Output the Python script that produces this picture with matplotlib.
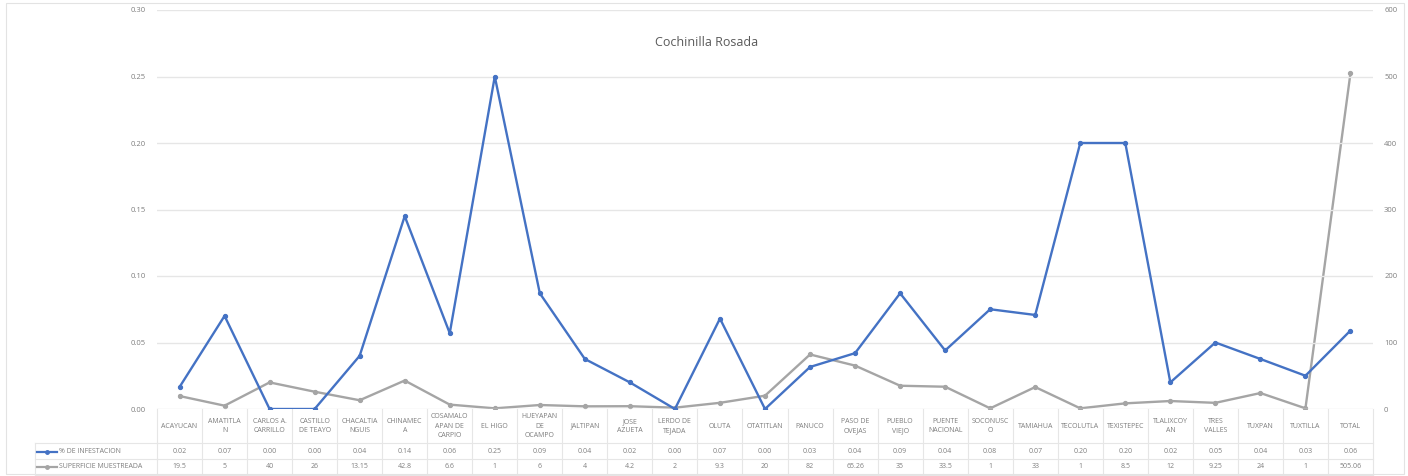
import numpy as np
import matplotlib.pyplot as plt
from matplotlib.patches import Rectangle
from matplotlib.lines import Line2D
import matplotlib.transforms as mtransforms

plt.rcParams['font.family'] = ['Open Sans', 'DejaVu Sans']

municipios = ['ACAYUCAN', 'AMATITLA\nN', 'CARLOS A.\nCARRILLO', 'CASTILLO\nDE TEAYO',
              'CHACALTIA\nNGUIS', 'CHINAMEC\nA', 'COSAMALO\nAPAN DE\nCARPIO', 'EL HIGO',
              'HUEYAPAN\nDE\nOCAMPO', 'JALTIPAN', 'JOSE\nAZUETA', 'LERDO DE\nTEJADA',
              'OLUTA', 'OTATITLAN', 'PANUCO', 'PASO DE\nOVEJAS', 'PUEBLO\nVIEJO',
              'PUENTE\nNACIONAL', 'SOCONUSC\nO', 'TAMIAHUA', 'TECOLUTLA', 'TEXISTEPEC',
              'TLALIXCOY\nAN', 'TRES\nVALLES', 'TUXPAN', 'TUXTILLA', 'TOTAL']

# values
infestacion = [0.0165, 0.070, 0.0, 0.0, 0.040, 0.145, 0.057, 0.25, 0.087, 0.0376,
               0.020, 0.0, 0.068, 0.0, 0.0316, 0.042, 0.087, 0.044, 0.075, 0.0707,
               0.20, 0.20, 0.020, 0.050, 0.0376, 0.025, 0.059]
# values as printed in the data table
infestacion_txt = ['0.02', '0.07', '0.00', '0.00', '0.04', '0.14', '0.06', '0.25', '0.09',
                   '0.04', '0.02', '0.00', '0.07', '0.00', '0.03', '0.04', '0.09', '0.04',
                   '0.08', '0.07', '0.20', '0.20', '0.02', '0.05', '0.04', '0.03', '0.06']

superficie = [19.5, 5, 40, 26, 13.15, 42.8, 6.6, 1, 6, 4, 4.2, 2, 9.3, 20, 82, 65.26,
              35, 33.5, 1, 33, 1, 8.5, 12, 9.25, 24, 1, 505.06]
superficie_txt = ['19.5', '5', '40', '26', '13.15', '42.8', '6.6', '1', '6', '4', '4.2',
                  '2', '9.3', '20', '82', '65.26', '35', '33.5', '1', '33', '1', '8.5',
                  '12', '9.25', '24', '1', '505.06']

blue = '#4472C4'
grey = '#A5A5A5'
txt = '#7f7f7f'
gridc = '#e6e6e6'

fig = plt.figure(figsize=(14.08, 4.76), dpi=100)
fig.patches.append(Rectangle((0.004, 0.004), 0.993, 0.99, transform=fig.transFigure,
                             fill=False, edgecolor='#e3e3e3', lw=0.8))

W, H = 1408, 476
left, right, top, bottom = 157, 1373, 10, 409
ax = fig.add_axes([left / W, 1 - bottom / H, (right - left) / W, (bottom - top) / H])
ax2 = ax.twinx()

x = np.arange(len(municipios))
ax.plot(x, infestacion, color=blue, lw=1.7, marker='o', ms=2.8, zorder=3)
ax2.plot(x, superficie, color=grey, lw=1.7, marker='o', ms=2.8, zorder=3)

ax.set_xlim(-0.5, len(municipios) - 0.5)
ax.set_ylim(0, 0.30)
ax2.set_ylim(0, 600)
ax.set_yticks(np.arange(0, 0.31, 0.05))
ax.set_yticklabels([f'{v:.2f}' for v in np.arange(0, 0.31, 0.05)])
ax2.set_yticks(np.arange(0, 601, 100))
ax.grid(axis='y', color=gridc, lw=1.0)
ax.set_axisbelow(True)
ax.set_xticks([])
for a in (ax, ax2):
    for s in a.spines.values():
        s.set_visible(False)
    a.tick_params(axis='y', length=0, labelsize=5.5, labelcolor=txt, pad=8)
ax.set_zorder(ax2.get_zorder() + 1)
ax.patch.set_visible(False)

fig.text(707 / W, 1 - 42 / H, 'Cochinilla Rosada', ha='center', va='center',
         fontsize=9, color='#595959')

# data table under the plot
trans = mtransforms.blended_transform_factory(ax.transData, fig.transFigure)
def fy(py):
    return 1 - py / H

row_y = [409, 443, 459, 475]
edges = np.arange(len(municipios) + 1) - 0.5
for e in edges:
    ax.plot([e, e], [fy(409), fy(475)], transform=trans, color=gridc, lw=0.8, clip_on=False)
for r in row_y[1:]:
    ax.plot([-0.5, len(municipios) - 0.5], [fy(r), fy(r)], transform=trans,
            color=gridc, lw=0.8, clip_on=False)
for r in row_y[1:]:
    fig.add_artist(Line2D([35 / W, left / W], [fy(r), fy(r)], color=gridc, lw=0.8))
fig.add_artist(Line2D([35 / W, 35 / W], [fy(443), fy(475)], color=gridc, lw=0.8))

for i, name in enumerate(municipios):
    ax.text(i, fy(426), name, transform=trans, ha='center', va='center',
            fontsize=5, color=txt, linespacing=1.5, clip_on=False)
    ax.text(i, fy(451.5), infestacion_txt[i], transform=trans, ha='center',
            va='center', fontsize=5, color=txt, clip_on=False)
    ax.text(i, fy(467), superficie_txt[i], transform=trans, ha='center',
            va='center', fontsize=5, color=txt, clip_on=False)

for py, col, lab in [(451.5, blue, '% DE INFESTACION'), (467, grey, 'SUPERFICIE MUESTREADA')]:
    fig.add_artist(Line2D([37 / W, 57 / W], [fy(py), fy(py)], color=col, lw=1.6))
    fig.add_artist(Line2D([47 / W], [fy(py)], color=col, marker='o', ms=2.5))
    fig.text(59 / W, fy(py), lab, ha='left', va='center', fontsize=5, color=txt)

fig.savefig('out.png', dpi=100)
